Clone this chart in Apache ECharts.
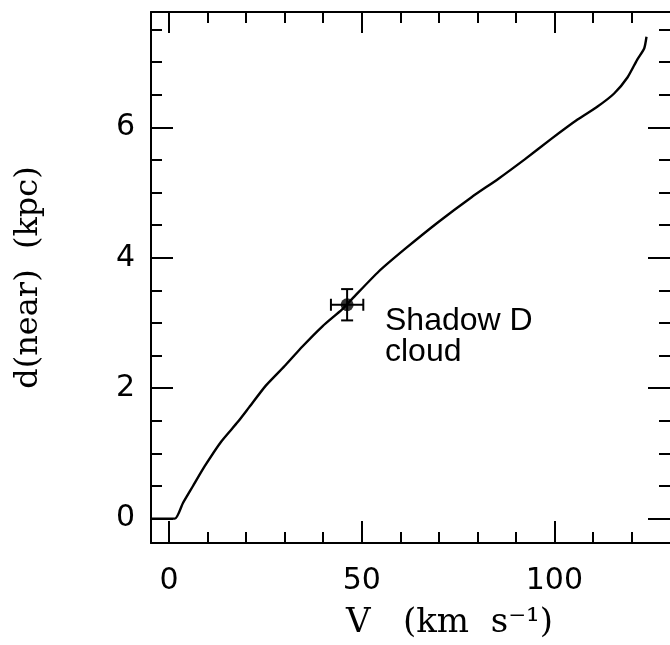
<!DOCTYPE html>
<html lang="en">
<head>
    <meta charset="UTF-8">
    <title>d(near) vs V</title>
    <script type="text/javascript" src="https://cdn.jsdelivr.net/npm/echarts@6/dist/echarts.min.js"></script>
    <style>
        html, body { margin: 0; padding: 0; background: #fff; }
        #ec { width: 670px; height: 645px; }
    </style>
</head>
<body>
<div id="ec"></div>
<script>
    // rotation curve distance
    var curveV = [-4.7, 1.5, 3.6, 6.2, 9.2, 13.5, 17.8, 20.8, 25.1, 30.3, 34.6, 39.8, 44.9, 47.5,
        54.4, 61.3, 69.9, 78.5, 85.4, 92.3, 99.1, 106, 111.2, 115.5, 119, 121.5, 123.3, 123.9];
    var curveD = [0, 0, 0.24, 0.50, 0.80, 1.18, 1.48, 1.71, 2.04, 2.36, 2.64, 2.95, 3.21, 3.37,
        3.79, 4.14, 4.55, 4.93, 5.21, 5.51, 5.82, 6.12, 6.32, 6.52, 6.77, 7.04, 7.21, 7.39];

    // Shadow D cloud: [V, d, errV, errD]
    var cloud = [46.2, 3.28, 4.2, 0.24];

    var xMajor = [0, 50, 100];
    var xMinor = [10, 20, 30, 40, 60, 70, 80, 90, 110, 120];
    var yMajor = [0, 2, 4, 6];
    var yMinor = [0.5, 1, 1.5, 2.5, 3, 3.5, 4.5, 5, 5.5, 6.5, 7, 7.5];

    var xMin = -4.7, xMax = 130;
    var yMin = -0.374, yMax = 7.77;

    var curve = [];
    for (var i = 0; i < curveV.length; i++) {
        curve.push([curveV[i], curveD[i]]);
    }

    function xAx(pos, ticks, len, main) {
        return {
            type: 'value', position: pos, min: xMin, max: xMax,
            axisLine: {show: main, onZero: false, lineStyle: {color: '#000', width: 2}},
            axisTick: {show: true, inside: true, length: len, customValues: ticks,
                lineStyle: {color: '#000', width: 2}},
            axisLabel: {show: false},
            splitLine: {show: false}
        };
    }

    function yAx(pos, ticks, len, main) {
        return {
            type: 'value', position: pos, min: yMin, max: yMax,
            axisLine: {show: main, onZero: false, lineStyle: {color: '#000', width: 2}},
            axisTick: {show: true, inside: true, length: len, customValues: ticks,
                lineStyle: {color: '#000', width: 2}},
            axisLabel: {show: false},
            splitLine: {show: false}
        };
    }

    var xs = [xAx('bottom', xMajor, 22, true), xAx('bottom', xMinor, 11, false),
        xAx('top', xMajor, 21, true), xAx('top', xMinor, 11, false)];
    xs[0].axisLabel = {
        show: true, customValues: xMajor, margin: 23, color: '#000',
        fontFamily: 'DejaVu Sans', fontSize: 30
    };
    xs[0].name = 'V   (km  s\u207B\u00B9)';
    xs[0].nameLocation = 'middle';
    xs[0].nameGap = 63;
    xs[0].nameTextStyle = {color: '#000', fontFamily: 'DejaVu Serif', fontSize: 34, padding: [0, 0, 0, 78]};

    // right axis line sits just past the picture edge, only its ticks show
    var ys = [yAx('left', yMajor, 22, true), yAx('left', yMinor, 11, false),
        yAx('right', yMajor, 22, false), yAx('right', yMinor, 11, false)];
    ys[0].axisLabel = {
        show: true, customValues: yMajor, margin: 16, color: '#000',
        fontFamily: 'DejaVu Sans', fontSize: 30
    };
    ys[0].name = 'd(near)  (kpc)';
    ys[0].nameLocation = 'middle';
    ys[0].nameGap = 106;
    ys[0].nameTextStyle = {color: '#000', fontFamily: 'DejaVu Serif', fontSize: 32};

    var myChart = echarts.init(document.getElementById('ec'));
    myChart.setOption({
        animation: false,
        backgroundColor: '#fff',
        grid: {left: 151, right: -3, top: 12, bottom: 98},
        xAxis: xs,
        yAxis: ys,
        graphic: [{
            type: 'text', left: 385, top: 305,
            style: {
                text: 'Shadow D\ncloud', fill: '#000',
                font: '32px "Liberation Sans"', lineHeight: 31
            }
        }],
        series: [
            {
                type: 'line', data: curve, showSymbol: false, symbol: 'none', smooth: 0.2,
                lineStyle: {color: '#000', width: 2.4}
            },
            {
                type: 'custom', data: [cloud],
                renderItem: function (params, api) {
                    var v = api.value(0), d = api.value(1), ev = api.value(2), ed = api.value(3);
                    var l = api.coord([v - ev, d]), r = api.coord([v + ev, d]);
                    var t = api.coord([v, d + ed]), b = api.coord([v, d - ed]);
                    var c = 6;
                    var st = {stroke: '#000', lineWidth: 2};
                    return {
                        type: 'group',
                        children: [
                            {type: 'line', shape: {x1: l[0], y1: l[1], x2: r[0], y2: r[1]}, style: st},
                            {type: 'line', shape: {x1: l[0], y1: l[1] - c, x2: l[0], y2: l[1] + c}, style: st},
                            {type: 'line', shape: {x1: r[0], y1: r[1] - c, x2: r[0], y2: r[1] + c}, style: st},
                            {type: 'line', shape: {x1: t[0], y1: t[1], x2: b[0], y2: b[1]}, style: st},
                            {type: 'line', shape: {x1: t[0] - c, y1: t[1], x2: t[0] + c, y2: t[1]}, style: st},
                            {type: 'line', shape: {x1: b[0] - c, y1: b[1], x2: b[0] + c, y2: b[1]}, style: st}
                        ]
                    };
                }
            },
            {
                type: 'scatter', data: [[cloud[0], cloud[1]]], symbol: 'circle', symbolSize: 13,
                itemStyle: {color: '#000'}
            }
        ]
    });
</script>
</body>
</html>
